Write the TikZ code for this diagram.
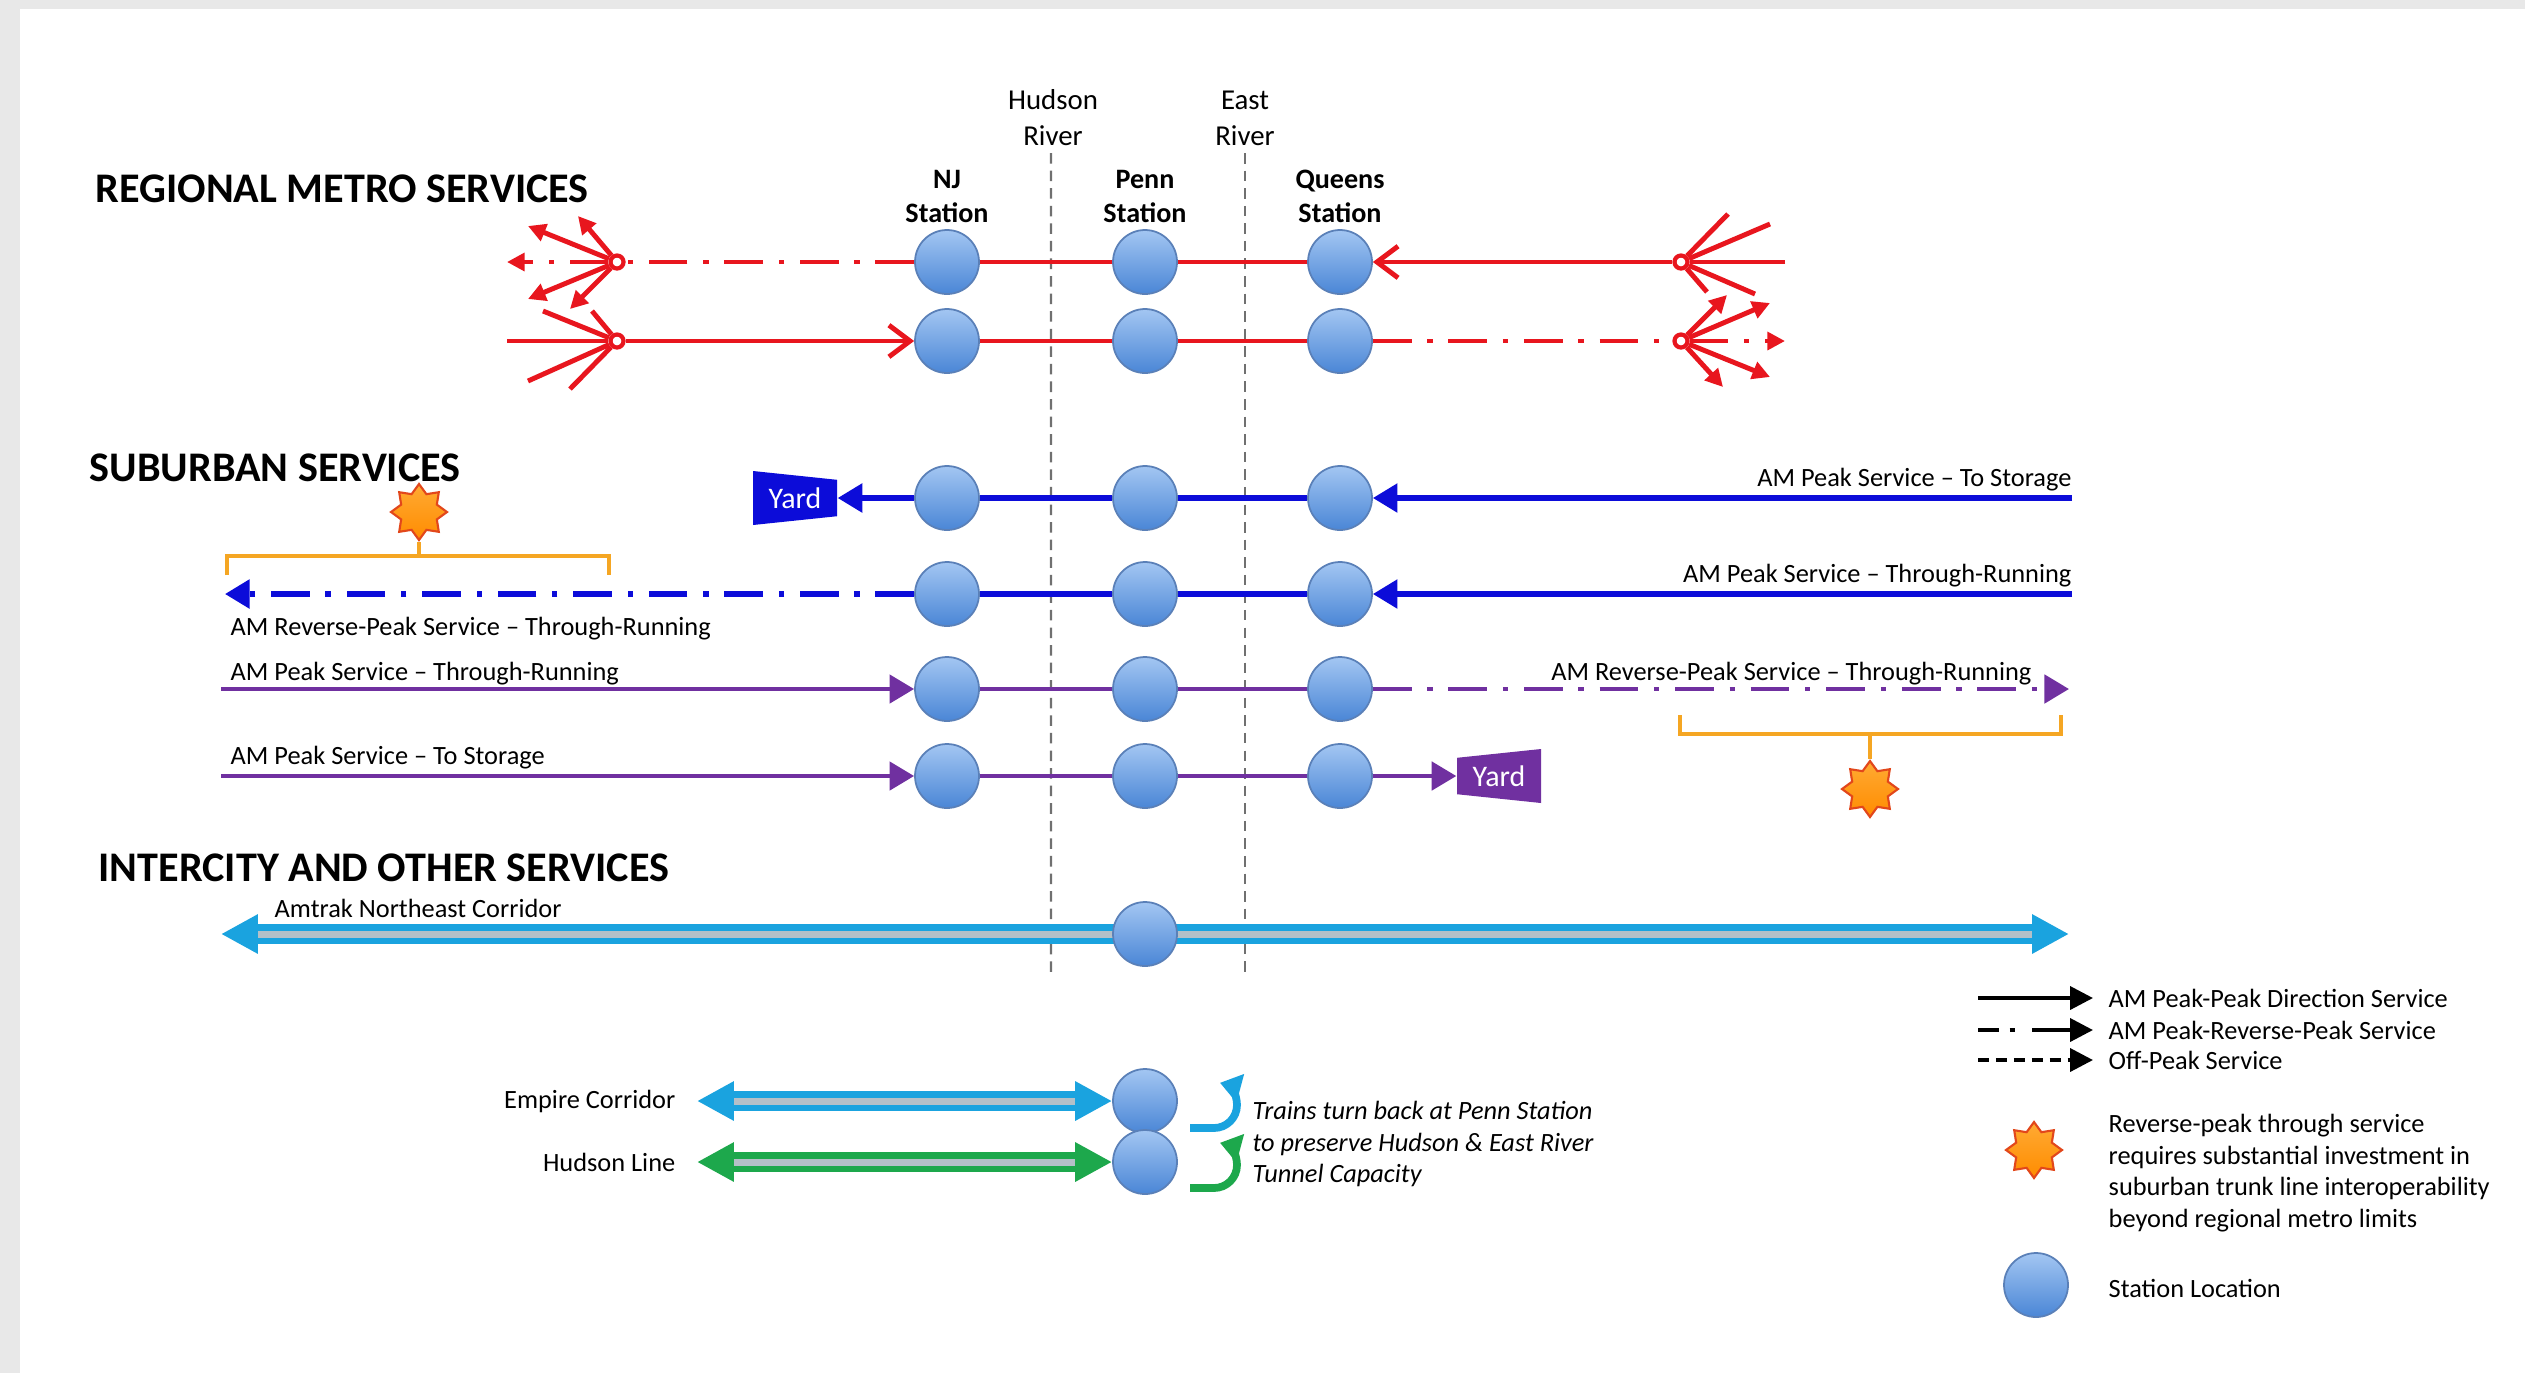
\documentclass[tikz,border=0pt]{standalone}
\usepackage{fontspec}
\setmainfont{Carlito}
\usetikzlibrary{arrows.meta,positioning,shapes.geometric}
\definecolor{metro}{HTML}{E8161E}
\definecolor{subblue}{HTML}{0C0CD9}
\definecolor{subpurple}{HTML}{7030A0}
\definecolor{amtrak}{HTML}{1AA3DF}
\definecolor{hudgreen}{HTML}{1DA84C}
\definecolor{bracket}{HTML}{F5A623}
\definecolor{startop}{HTML}{FFAA33}
\definecolor{starbot}{HTML}{FF8C00}
\definecolor{staredge}{HTML}{E2471B}
\definecolor{stntop}{HTML}{A3C6F2}
\definecolor{stnbot}{HTML}{4A86D6}
\definecolor{stnedge}{HTML}{5A80B8}
\definecolor{framegray}{HTML}{E8E8E8}
\definecolor{rivergray}{HTML}{707070}
\definecolor{midgray}{HTML}{B4C0C8}
\tikzset{
  stn/.style={circle,draw=stnedge,top color=stntop,bottom color=stnbot,
    minimum size=0.64cm,inner sep=0pt,line width=0.5pt},
  fan/.style={circle,draw=metro,fill=white,minimum size=0.13cm,inner sep=0pt,line width=1.2pt},
  mline/.style={draw=metro,line width=1.4pt},
  sline/.style={draw=subblue,line width=1.5pt},
  pline/.style={draw=subpurple,line width=1.3pt},
  ddash/.style={dash pattern=on 11pt off 4.5pt on 1.5pt off 4.5pt},
  fhead/.style={-{Triangle[length=5pt,width=5pt]}},
  vhead/.style={-{Straight Barb[length=6pt,width=9pt]}},
  thead/.style={-{Triangle[length=7pt,width=8pt]}},
  dbl/.style={draw=#1,line width=5.6pt,
    {Triangle[length=10.5pt,width=10.5pt]}-{Triangle[length=10.5pt,width=10.5pt]}},
  dblmid/.style={draw=midgray,line width=2pt,shorten <=10.5pt,shorten >=10.5pt},
  river/.style={draw=rivergray,line width=0.6pt,dash pattern=on 3pt off 2pt},
  brk/.style={draw=bracket,line width=1.1pt},
  burst/.style={star,star points=8,star point ratio=1.45,minimum size=0.56cm,inner sep=0pt,
    draw=staredge,top color=startop,bottom color=starbot,line width=0.6pt},
  yard/.style={minimum width=0.84cm,minimum height=0.54cm,inner sep=0pt,text=white,
    font=\fontsize{8.5}{10}\selectfont},
  yardl/.style={yard,path picture={\fill[#1] (path picture bounding box.north west)
    -- ([yshift=-2.5pt]path picture bounding box.north east)
    -- ([yshift=2.5pt]path picture bounding box.south east)
    -- (path picture bounding box.south west) -- cycle;}},
  yardr/.style={yard,path picture={\fill[#1] ([yshift=-2.5pt]path picture bounding box.north west)
    -- (path picture bounding box.north east)
    -- (path picture bounding box.south east)
    -- ([yshift=2.5pt]path picture bounding box.south west) -- cycle;}},
  lbl/.style={font=\fontsize{7.5}{9.1}\selectfont,inner sep=0pt},
  hdr/.style={font=\fontsize{12}{14}\selectfont\bfseries,inner sep=0pt,anchor=base west},
  stnlbl/.style={font=\fontsize{8}{9.6}\selectfont\bfseries,align=center,inner sep=0pt},
  rvlbl/.style={font=\fontsize{8.2}{10.2}\selectfont,align=center,inner sep=0pt},
  legarr/.style={draw=black,line width=1.1pt,-{Triangle[length=6.5pt,width=6.5pt]}},
  uturn/.style={draw=#1,line width=2.2pt,-{Triangle[length=6pt,width=8pt]}},
}
\begin{document}
\begin{tikzpicture}
  \useasboundingbox (0,0) rectangle (25.25,-13.73);
  \fill[framegray] (0,0) rectangle (25.25,-13.73);
  \fill[white] (0.2,-0.09) rectangle (25.25,-13.73);

  % river crossings
  \node[rvlbl,anchor=south] (hud) at (10.53,-1.46) {Hudson\\River};
  \node[rvlbl,anchor=south] (eas) at (12.45,-1.46) {East\\River};
  \coordinate (hudb) at (10.51,-9.74);
  \coordinate (easb) at (12.45,-9.74);
  \draw[river] ([yshift=-2pt,xshift=-0.2mm]hud.south) -- (hudb);
  \draw[river] ([yshift=-2pt]eas.south) -- (easb);

  % headings
  \node[hdr] (hrm) at (0.95,-2.02) {REGIONAL METRO SERVICES};
  \node[hdr] (hsb) at (0.89,-4.81) {SUBURBAN SERVICES};
  \node[hdr] (hic) at (0.98,-8.81) {INTERCITY AND OTHER SERVICES};

  % stations
  \foreach \r/\y in {1/-2.62,2/-3.41,3/-4.98,4/-5.94,5/-6.89,6/-7.76}{
    \node[stn] (nj\r) at (9.47,\y) {};
    \node[stn] (pn\r) at (11.45,\y) {};
    \node[stn] (qn\r) at (13.40,\y) {};
  }
  \node[stnlbl,above=0.06cm of nj1] (njl) {NJ\\Station};
  \node[stnlbl,above=0.06cm of pn1] (pnl) {Penn\\Station};
  \node[stnlbl,above=0.06cm of qn1] (qnl) {Queens\\Station};

  % regional metro
  \node[fan] (fl1) at (6.17,-2.62) {};
  \node[fan] (fl2) at (6.17,-3.41) {};
  \node[fan] (fr1) at (16.81,-2.62) {};
  \node[fan] (fr2) at (16.81,-3.41) {};
  \draw[mline] (nj1) -- (pn1) -- (qn1);
  \draw[mline,ddash] (nj1) -- (fl1);
  \draw[mline,vhead] (fr1) -- (qn1);
  \draw[mline] (nj2) -- (pn2) -- (qn2);
  \draw[mline,vhead] (fl2) -- (nj2);
  \draw[mline,ddash] (qn2) -- (fr2);
  \foreach \i/\dx/\dy in {a/-0.89/0.36,b/-0.39/0.46,c/-0.89/-0.37,d/-0.47/-0.47}{
    \path (fl1) ++(\dx,\dy) coordinate (fl1\i);
    \draw[mline,fhead] (fl1) -- (fl1\i);
  }
  \foreach \i/\dx/\dy in {a/0.46/0.46,b/0.89/0.38,c/0.89/-0.36,d/0.42/-0.46}{
    \path (fr2) ++(\dx,\dy) coordinate (fr2\i);
    \draw[mline,fhead] (fr2) -- (fr2\i);
  }
  \foreach \i/\dx/\dy in {a/-0.74/0.30,b/-0.25/0.30,c/-0.89/-0.40,d/-0.47/-0.48,e/-1.10/0}{
    \path (fl2) ++(\dx,\dy) coordinate (fl2\i);
    \draw[mline] (fl2\i) -- (fl2);
  }
  \foreach \i/\dx/\dy in {a/0.47/0.48,b/0.89/0.38,c/0.74/-0.32,d/0.26/-0.30,e/1.04/0}{
    \path (fr1) ++(\dx,\dy) coordinate (fr1\i);
    \draw[mline] (fr1\i) -- (fr1);
  }
  \path (fl1) ++(-1.10,0) coordinate (fl1e);
  \path (fr2) ++(1.04,0) coordinate (fr2e);
  \draw[mline,ddash,fhead] (fl1) -- (fl1e);
  \draw[mline,ddash,fhead] (fr2) -- (fr2e);

  % suburban
  \node[yardl=subblue] (yd1) at (7.95,-4.98) {Yard};
  \node[yardr=subpurple] (yd2) at (14.99,-7.76) {Yard};
  \coordinate (be3) at (20.72,-4.98);
  \coordinate (be4) at (20.72,-5.94);
  \coordinate (bw4) at (2.25,-5.94);
  \coordinate (pw5) at (2.21,-6.89);
  \coordinate (pe5) at (20.69,-6.89);
  \coordinate (pw6) at (2.21,-7.76);
  \draw[sline,thead] (be3) -- (qn3);
  \draw[sline] (nj3) -- (pn3) -- (qn3);
  \draw[sline,thead] (nj3) -- (yd1);
  \draw[sline,thead] (be4) -- (qn4);
  \draw[sline] (nj4) -- (pn4) -- (qn4);
  \draw[sline,ddash,thead] (nj4) -- (bw4);
  \draw[pline,thead] (pw5) -- (nj5);
  \draw[pline] (nj5) -- (pn5) -- (qn5);
  \draw[pline,ddash,thead] (qn5) -- (pe5);
  \draw[pline,thead] (pw6) -- (nj6);
  \draw[pline] (nj6) -- (pn6) -- (qn6);
  \draw[pline,thead] (qn6) -- (yd2);
  \node[lbl,anchor=base east] (l3e) at (20.72,-4.86) {AM Peak Service – To Storage};
  \node[lbl,anchor=base east] (l4e) at (20.72,-5.82) {AM Peak Service – Through-Running};
  \node[lbl,anchor=base west] (l4w) at (2.30,-6.35) {AM Reverse-Peak Service – Through-Running};
  \node[lbl,anchor=base west] (l5w) at (2.30,-6.80) {AM Peak Service – Through-Running};
  \node[lbl,anchor=base east] (l5e) at (20.32,-6.80) {AM Reverse-Peak Service – Through-Running};
  \node[lbl,anchor=base west] (l6w) at (2.30,-7.64) {AM Peak Service – To Storage};

  % reverse-peak brackets
  \node[burst] (st1) at (4.19,-5.12) {};
  \coordinate (bk1a) at (2.27,-5.75);
  \coordinate (bk1b) at (6.09,-5.75);
  \coordinate (bk1m) at (4.19,-5.56);
  \draw[brk] (bk1a) -- ++(0,0.19) -| (bk1b);
  \draw[brk] (bk1m) -- (st1);
  \node[burst] (st2) at (18.70,-7.89) {};
  \coordinate (bk2a) at (16.80,-7.15);
  \coordinate (bk2b) at (20.61,-7.15);
  \coordinate (bk2m) at (18.70,-7.34);
  \draw[brk] (bk2a) -- ++(0,-0.19) -| (bk2b);
  \draw[brk] (bk2m) -- (st2);

  % intercity
  \coordinate (aw) at (2.21,-9.34);
  \coordinate (ae) at (20.69,-9.34);
  \draw[dbl=amtrak] (aw) -- (ae);
  \draw[dblmid] (aw) -- (ae);
  \node[stn] (pn7) at (11.45,-9.34) {};
  \node[lbl,anchor=base west] (lam) at (2.74,-9.17) {Amtrak Northeast Corridor};

  \node[stn] (pn8) at (11.45,-11.01) {};
  \node[stn] (pn9) at (11.45,-11.62) {};
  \coordinate (ew) at (6.97,-11.01);
  \coordinate (hw) at (6.97,-11.62);
  \draw[dbl=amtrak] (ew) -- (pn8);
  \draw[dblmid] (ew) -- (pn8);
  \draw[dbl=hudgreen] (hw) -- (pn9);
  \draw[dblmid] (hw) -- (pn9);
  \node[lbl,left=0.21cm of ew] (lem) {Empire Corridor};
  \node[lbl,left=0.21cm of hw] (lhl) {Hudson Line};
  \coordinate (ut1) at (11.90,-11.28);
  \coordinate (ut2) at (11.90,-11.88);
  \draw[uturn=amtrak] (ut1) -- ++(0.24,0) arc[start angle=-90,end angle=75,radius=0.23];
  \draw[uturn=hudgreen] (ut2) -- ++(0.24,0) arc[start angle=-90,end angle=75,radius=0.23];
  \node[lbl,font=\fontsize{7.5}{9.1}\selectfont\itshape,align=left,anchor=north west] (ttb)
    at (12.52,-11.00) {Trains turn back at Penn Station\\to preserve Hudson \& East River\\Tunnel Capacity};

  % legend
  \coordinate (lg1a) at (19.78,-9.98);  \coordinate (lg1b) at (20.93,-9.98);
  \coordinate (lg2a) at (19.78,-10.30); \coordinate (lg2b) at (20.93,-10.30);
  \coordinate (lg3a) at (19.78,-10.60); \coordinate (lg3b) at (20.93,-10.60);
  \draw[legarr] (lg1a) -- (lg1b);
  \draw[legarr,dash pattern=on 6pt off 3pt on 1.4pt off 5pt on 40pt] (lg2a) -- (lg2b);
  \draw[legarr,dash pattern=on 3.1pt off 2pt] (lg3a) -- (lg3b);
  \node[lbl,anchor=west] (lgt1) at (21.08,-9.98) {AM Peak-Peak Direction Service};
  \node[lbl,anchor=west] (lgt2) at (21.08,-10.30) {AM Peak-Reverse-Peak Service};
  \node[lbl,anchor=west] (lgt3) at (21.08,-10.60) {Off-Peak Service};
  \node[burst] (lgst) at (20.34,-11.50) {};
  \node[lbl,align=left,anchor=north west] (lgsx) at (21.08,-11.13)
    {Reverse-peak through service\\requires substantial investment in\\suburban trunk line interoperability\\beyond regional metro limits};
  \node[stn] (lgstn) at (20.36,-12.85) {};
  \node[lbl,anchor=west] (lgsl) at (21.08,-12.88) {Station Location};
\end{tikzpicture}
\end{document}
